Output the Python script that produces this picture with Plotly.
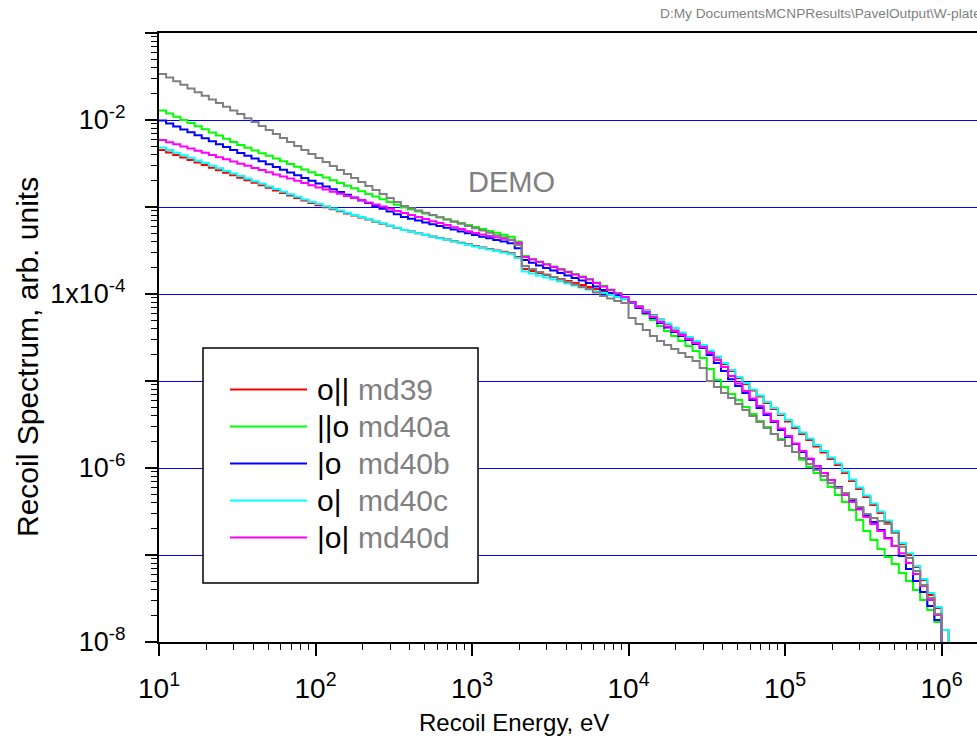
import math
import plotly.graph_objects as go

# ---- energy binning (22 equal-lethargy bins per decade) ----
BIN_MANTISSA = [1.000, 1.110, 1.233, 1.369, 1.520, 1.688, 1.874, 2.081, 2.310, 2.565, 2.848,
                3.162, 3.511, 3.899, 4.329, 4.806, 5.337, 5.926, 6.579, 7.305, 8.111, 9.006]
DECADES = [1e1, 1e2, 1e3, 1e4, 1e5]
ENERGY_EDGES = [m * d for d in DECADES for m in BIN_MANTISSA] + [1.0e6, 1.110e6]

# ---- recoil spectra, one value per energy bin (0 = empty bin) ----
MD39 = [4.52e-3, 4.23e-3, 3.96e-3, 3.70e-3, 3.46e-3, 3.24e-3, 3.03e-3, 2.83e-3, 2.65e-3, 2.48e-3, 2.32e-3, 2.17e-3,
        2.03e-3, 1.90e-3, 1.78e-3, 1.66e-3, 1.55e-3, 1.45e-3, 1.36e-3, 1.27e-3, 1.19e-3, 1.11e-3, 1.05e-3, 9.95e-4,
        9.43e-4, 8.93e-4, 8.44e-4, 7.99e-4, 7.57e-4, 7.17e-4, 6.78e-4, 6.41e-4, 6.08e-4, 5.75e-4, 5.44e-4, 5.22e-4,
        5.00e-4, 4.79e-4, 4.59e-4, 4.40e-4, 4.22e-4, 4.05e-4, 3.88e-4, 3.72e-4, 3.56e-4, 3.42e-4, 3.30e-4, 3.17e-4,
        3.06e-4, 2.94e-4, 2.66e-4, 1.94e-4, 1.84e-4, 1.74e-4, 1.65e-4, 1.57e-4, 1.49e-4, 1.41e-4, 1.34e-4, 1.27e-4,
        1.20e-4, 1.14e-4, 1.08e-4, 1.01e-4, 9.48e-5, 8.88e-5, 8.09e-5, 7.28e-5, 6.46e-5, 5.74e-5, 5.09e-5, 4.52e-5,
        4.01e-5, 3.56e-5, 3.16e-5, 2.81e-5, 2.53e-5, 2.18e-5, 1.86e-5, 1.57e-5, 1.30e-5, 1.08e-5, 9.24e-6, 7.78e-6,
        6.63e-6, 5.59e-6, 4.77e-6, 4.07e-6, 3.42e-6, 2.88e-6, 2.46e-6, 2.10e-6, 1.77e-6, 1.51e-6, 1.27e-6, 1.08e-6,
        8.76e-7, 7.09e-7, 5.74e-7, 4.64e-7, 3.76e-7, 3.04e-7, 2.39e-7, 1.84e-7, 1.34e-7, 1.00e-7, 7.28e-8, 5.16e-8,
        3.47e-8, 2.46e-8, 1.37e-8]

MD40A = [1.29e-2, 1.19e-2, 1.09e-2, 1.00e-2, 9.24e-3, 8.49e-3, 7.82e-3, 7.18e-3, 6.62e-3, 6.10e-3, 5.60e-3, 5.16e-3,
         4.80e-3, 4.47e-3, 4.15e-3, 3.87e-3, 3.60e-3, 3.35e-3, 3.12e-3, 2.91e-3, 2.70e-3, 2.51e-3, 2.34e-3, 2.18e-3,
         2.03e-3, 1.89e-3, 1.76e-3, 1.64e-3, 1.52e-3, 1.41e-3, 1.32e-3, 1.23e-3, 1.14e-3, 1.06e-3, 9.87e-4, 9.36e-4,
         8.90e-4, 8.44e-4, 8.03e-4, 7.61e-4, 7.24e-4, 6.87e-4, 6.53e-4, 6.19e-4, 5.89e-4, 5.60e-4, 5.31e-4, 5.05e-4,
         4.79e-4, 4.56e-4, 3.99e-4, 2.73e-4, 2.53e-4, 2.36e-4, 2.21e-4, 2.07e-4, 1.94e-4, 1.81e-4, 1.70e-4, 1.59e-4,
         1.49e-4, 1.36e-4, 1.24e-4, 1.13e-4, 1.03e-4, 9.24e-5, 8.09e-5, 6.91e-5, 5.89e-5, 5.02e-5, 4.29e-5, 3.76e-5,
         3.29e-5, 2.88e-5, 2.53e-5, 2.21e-5, 1.84e-5, 1.37e-5, 1.03e-5, 8.53e-6, 7.09e-6, 6.05e-6, 5.02e-6, 4.18e-6,
         3.47e-6, 2.96e-6, 2.46e-6, 2.15e-6, 1.79e-6, 1.53e-6, 1.24e-6, 1.03e-6, 8.76e-7, 7.28e-7, 6.05e-7, 4.89e-7,
         4.07e-7, 3.29e-7, 2.53e-7, 1.89e-7, 1.49e-7, 1.17e-7, 9.48e-8, 7.88e-8, 6.21e-8, 5.02e-8, 3.96e-8, 3.04e-8,
         2.33e-8, 1.70e-8, 0]

MD40B = [9.87e-3, 9.12e-3, 8.44e-3, 7.80e-3, 7.22e-3, 6.67e-3, 6.18e-3, 5.71e-3, 5.28e-3, 4.88e-3, 4.52e-3, 4.18e-3,
         3.88e-3, 3.60e-3, 3.35e-3, 3.11e-3, 2.89e-3, 2.68e-3, 2.49e-3, 2.31e-3, 2.15e-3, 2.00e-3, 1.86e-3, 1.72e-3,
         1.60e-3, 1.49e-3, 1.38e-3, 1.29e-3, 1.19e-3, 1.11e-3, 1.03e-3, 9.56e-4, 8.90e-4, 8.27e-4, 7.68e-4, 7.32e-4,
         6.98e-4, 6.65e-4, 6.34e-4, 6.05e-4, 5.77e-4, 5.50e-4, 5.24e-4, 5.00e-4, 4.77e-4, 4.56e-4, 4.37e-4, 4.18e-4,
         4.00e-4, 3.83e-4, 3.35e-4, 2.46e-4, 2.28e-4, 2.13e-4, 1.99e-4, 1.86e-4, 1.74e-4, 1.63e-4, 1.53e-4, 1.43e-4,
         1.34e-4, 1.22e-4, 1.11e-4, 1.03e-4, 9.48e-5, 8.76e-5, 7.88e-5, 6.91e-5, 6.05e-5, 5.30e-5, 4.64e-5, 4.12e-5,
         3.66e-5, 3.29e-5, 2.96e-5, 2.66e-5, 2.39e-5, 1.99e-5, 1.61e-5, 1.30e-5, 1.05e-5, 8.76e-6, 7.28e-6, 6.05e-6,
         4.89e-6, 4.07e-6, 3.38e-6, 2.73e-6, 2.27e-6, 1.89e-6, 1.53e-6, 1.27e-6, 1.05e-6, 8.76e-7, 7.28e-7, 6.05e-7,
         5.02e-7, 4.18e-7, 3.47e-7, 2.88e-7, 2.39e-7, 1.94e-7, 1.57e-7, 1.27e-7, 9.74e-8, 6.91e-8, 5.02e-8, 3.76e-8,
         2.59e-8, 1.79e-8, 0]

MD40C = [4.83e-3, 4.51e-3, 4.21e-3, 3.93e-3, 3.67e-3, 3.42e-3, 3.20e-3, 2.98e-3, 2.78e-3, 2.60e-3, 2.43e-3, 2.27e-3,
         2.12e-3, 1.98e-3, 1.85e-3, 1.72e-3, 1.61e-3, 1.50e-3, 1.40e-3, 1.31e-3, 1.22e-3, 1.14e-3, 1.08e-3, 1.02e-3,
         9.61e-4, 9.09e-4, 8.58e-4, 8.11e-4, 7.65e-4, 7.24e-4, 6.83e-4, 6.46e-4, 6.10e-4, 5.77e-4, 5.44e-4, 5.20e-4,
         4.99e-4, 4.77e-4, 4.57e-4, 4.37e-4, 4.19e-4, 4.00e-4, 3.84e-4, 3.67e-4, 3.52e-4, 3.38e-4, 3.25e-4, 3.12e-4,
         3.00e-4, 2.88e-4, 2.59e-4, 1.81e-4, 1.72e-4, 1.63e-4, 1.55e-4, 1.47e-4, 1.39e-4, 1.32e-4, 1.25e-4, 1.19e-4,
         1.13e-4, 1.07e-4, 1.03e-4, 9.74e-5, 9.24e-5, 8.76e-5, 7.99e-5, 7.18e-5, 6.38e-5, 5.66e-5, 5.09e-5, 4.58e-5,
         4.07e-5, 3.61e-5, 3.20e-5, 2.88e-5, 2.59e-5, 2.24e-5, 1.91e-5, 1.61e-5, 1.34e-5, 1.11e-5, 9.48e-6, 7.99e-6,
         6.81e-6, 5.74e-6, 4.89e-6, 4.18e-6, 3.56e-6, 3.00e-6, 2.56e-6, 2.18e-6, 1.84e-6, 1.57e-6, 1.32e-6, 1.13e-6,
         9.12e-7, 7.38e-7, 5.97e-7, 4.83e-7, 3.91e-7, 3.16e-7, 2.49e-7, 1.89e-7, 1.37e-7, 1.05e-7, 7.47e-8, 5.30e-8,
         3.66e-8, 2.53e-8, 1.37e-8]

MD40D = [5.89e-3, 5.56e-3, 5.26e-3, 4.97e-3, 4.69e-3, 4.43e-3, 4.19e-3, 3.96e-3, 3.74e-3, 3.53e-3, 3.33e-3, 3.15e-3,
         2.98e-3, 2.81e-3, 2.66e-3, 2.51e-3, 2.37e-3, 2.24e-3, 2.12e-3, 2.00e-3, 1.89e-3, 1.78e-3, 1.68e-3, 1.59e-3,
         1.50e-3, 1.42e-3, 1.34e-3, 1.27e-3, 1.20e-3, 1.13e-3, 1.07e-3, 1.01e-3, 9.54e-4, 9.01e-4, 8.51e-4, 8.07e-4,
         7.65e-4, 7.26e-4, 6.88e-4, 6.53e-4, 6.19e-4, 5.87e-4, 5.57e-4, 5.28e-4, 5.01e-4, 4.83e-4, 4.65e-4, 4.48e-4,
         4.32e-4, 4.17e-4, 3.86e-4, 2.66e-4, 2.49e-4, 2.33e-4, 2.18e-4, 2.04e-4, 1.91e-4, 1.79e-4, 1.68e-4, 1.57e-4,
         1.47e-4, 1.34e-4, 1.22e-4, 1.11e-4, 1.01e-4, 9.24e-5, 8.09e-5, 7.09e-5, 6.21e-5, 5.44e-5, 4.77e-5, 4.23e-5,
         3.76e-5, 3.38e-5, 3.04e-5, 2.73e-5, 2.46e-5, 2.10e-5, 1.74e-5, 1.45e-5, 1.14e-5, 9.36e-6, 7.68e-6, 6.30e-6,
         5.16e-6, 4.23e-6, 3.47e-6, 2.84e-6, 2.33e-6, 1.91e-6, 1.57e-6, 1.29e-6, 1.05e-6, 8.76e-7, 7.28e-7, 5.97e-7,
         4.89e-7, 4.07e-7, 3.33e-7, 2.73e-7, 2.27e-7, 1.89e-7, 1.55e-7, 1.27e-7, 1.05e-7, 8.09e-8, 6.05e-8, 4.40e-8,
         3.04e-8, 2.04e-8, 0]

BARE = [3.38e-2, 3.07e-2, 2.79e-2, 2.54e-2, 2.30e-2, 2.09e-2, 1.90e-2, 1.72e-2, 1.57e-2, 1.42e-2, 1.29e-2, 1.17e-2,
        1.05e-2, 9.48e-3, 8.53e-3, 7.67e-3, 6.90e-3, 6.21e-3, 5.58e-3, 5.02e-3, 4.52e-3, 4.06e-3, 3.66e-3, 3.29e-3,
        2.96e-3, 2.66e-3, 2.39e-3, 2.15e-3, 1.94e-3, 1.74e-3, 1.57e-3, 1.41e-3, 1.27e-3, 1.14e-3, 1.03e-3, 9.66e-4,
        9.12e-4, 8.59e-4, 8.09e-4, 7.64e-4, 7.19e-4, 6.78e-4, 6.40e-4, 6.03e-4, 5.68e-4, 5.36e-4, 5.05e-4, 4.75e-4,
        4.49e-4, 4.23e-4, 3.66e-4, 2.10e-4, 1.94e-4, 1.79e-4, 1.67e-4, 1.57e-4, 1.47e-4, 1.37e-4, 1.29e-4, 1.20e-4,
        1.14e-4, 1.04e-4, 9.48e-5, 8.87e-5, 8.32e-5, 7.89e-5, 5.30e-5, 4.52e-5, 3.85e-5, 3.29e-5, 2.88e-5, 2.59e-5,
        2.33e-5, 2.10e-5, 1.89e-5, 1.70e-5, 1.41e-5, 1.00e-5, 8.53e-6, 7.28e-6, 6.38e-6, 5.45e-6, 4.65e-6, 3.96e-6,
        3.38e-6, 2.88e-6, 2.46e-6, 2.10e-6, 1.79e-6, 1.53e-6, 1.30e-6, 1.11e-6, 9.48e-7, 8.09e-7, 6.73e-7, 5.89e-7,
        5.16e-7, 4.41e-7, 3.56e-7, 2.96e-7, 2.66e-7, 2.46e-7, 2.27e-7, 1.79e-7, 1.24e-7, 9.25e-8, 6.55e-8, 4.52e-8,
        3.21e-8, 2.10e-8, 0]

LEGEND_KEYS = ["o||", "||o", "|o", "o|", "|o|"]
LEGEND_NAMES = ["md39", "md40a", "md40b", "md40c", "md40d"]
SERIES = [MD39, MD40A, MD40B, MD40C, MD40D]
COLORS = ["#ff0000", "#00ff00", "#0000ff", "#00ffff", "#ff00ff"]
BARE_COLOR = "#808080"

X_TICKS = [1e1, 1e2, 1e3, 1e4, 1e5, 1e6]
X_TICKTEXT = ["10<sup>1</sup>", "10<sup>2</sup>", "10<sup>3</sup>", "10<sup>4</sup>", "10<sup>5</sup>", "10<sup>6</sup>"]
Y_TICKS = [1e-8, 1e-7, 1e-6, 1e-5, 1e-4, 1e-3, 1e-2, 1e-1]
Y_TICKTEXT = ["10<sup>-8</sup>", "", "10<sup>-6</sup>", "", "1x10<sup>-4</sup>", "", "10<sup>-2</sup>", ""]
GRID_LEVELS = [1e-7, 1e-6, 1e-5, 1e-4, 1e-3, 1e-2]

# ---- page geometry ----
W, H = 977, 752
ML, MR, MT, MB = 159, 0, 33, 110
PLOT_H = H - MT - MB
FONT = "Arial, 'Liberation Sans', Helvetica, sans-serif"
FLOOR = 1e-12  # empty bins are drawn off the bottom of the axis
Y_RANGE = [-8, -1]


def px(xp):
    return (xp - ML) / (W - ML - MR)


def py(yp):
    return (H - MB - yp) / PLOT_H


def grid_y(level):
    # paper position of a decade line, nudged half a pixel so a 1 px rule sits on one pixel row
    frac = (math.log10(level) - Y_RANGE[0]) / (Y_RANGE[1] - Y_RANGE[0])
    return frac - 0.5 / PLOT_H


fig = go.Figure()


def add_spectrum(values, color, name):
    y = [v if v > 0 else FLOOR for v in values] + [FLOOR]
    fig.add_trace(go.Scatter(
        x=ENERGY_EDGES, y=y, mode="lines", name=name,
        line=dict(color=color, width=2, shape="hv"),
        showlegend=False, hoverinfo="skip"))


for vals, col, nm in zip(SERIES, COLORS, LEGEND_NAMES):
    add_spectrum(vals, col, nm)
add_spectrum(BARE, BARE_COLOR, "bare")

minor_x = [m * d for d in [1e1, 1e2, 1e3, 1e4, 1e5, 1e6] for m in range(2, 10)]
minor_y = [m * d for d in [1e-8, 1e-7, 1e-6, 1e-5, 1e-4, 1e-3, 1e-2] for m in range(2, 10)]

fig.update_layout(
    xaxis=dict(
        type="log", range=[1, 1 + (W - MR - ML) / 156.5],
        showline=True, linecolor="black", linewidth=2, mirror=True,
        showgrid=False, zeroline=False,
        tickmode="array", tickvals=X_TICKS, ticktext=X_TICKTEXT,
        ticks="outside", ticklen=12, tickwidth=1.5, tickcolor="black",
        ticklabelstandoff=8,
        tickfont=dict(family=FONT, size=28, color="black"),
        minor=dict(tickmode="array", tickvals=minor_x, ticks="outside", ticklen=6,
                   tickwidth=1.2, tickcolor="black", showgrid=False),
    ),
    yaxis=dict(
        type="log", range=Y_RANGE,
        showline=True, linecolor="black", linewidth=2,
        showgrid=False, zeroline=False,
        tickmode="array", tickvals=Y_TICKS, ticktext=Y_TICKTEXT,
        ticks="outside", ticklen=12, tickwidth=1.5, tickcolor="black",
        ticklabelstandoff=14,
        tickfont=dict(family=FONT, size=27, color="black"),
        minor=dict(tickmode="array", tickvals=minor_y, ticks="outside", ticklen=6,
                   tickwidth=1.2, tickcolor="black", showgrid=False),
    ),
)

# blue decade rules behind the spectra
shapes = [
    dict(type="line", xref="paper", yref="paper", x0=0, x1=1, y0=grid_y(lv), y1=grid_y(lv),
         line=dict(color="#0000ff", width=1), layer="below")
    for lv in GRID_LEVELS
]

annotations = [
    dict(text="Recoil Energy, eV", x=px(514), y=py(722), xref="paper", yref="paper",
         showarrow=False, xanchor="center", yanchor="middle",
         font=dict(family=FONT, size=24, color="black")),
    dict(text="Recoil Spectrum, arb. units", x=px(27), y=py(357), xref="paper", yref="paper",
         showarrow=False, xanchor="center", yanchor="middle", textangle=-90,
         font=dict(family=FONT, size=30, color="black")),
    dict(text="DEMO", x=px(511), y=py(182), xref="paper", yref="paper",
         showarrow=False, xanchor="center", yanchor="middle",
         font=dict(family=FONT, size=29, color="#808080")),
    dict(text="D:My DocumentsMCNPResults\\PavelOutput\\W-plate", x=px(658), y=py(14),
         xref="paper", yref="paper", showarrow=False, xanchor="left", yanchor="middle",
         font=dict(family=FONT, size=13.7, color="#808080")),
]

shapes.append(dict(type="rect", xref="paper", yref="paper", x0=px(203), x1=px(478), y0=py(583), y1=py(348),
                   line=dict(color="black", width=1.5), fillcolor="white", layer="above"))

LEG_ROW0, LEG_STEP = 389.5, 37
for i, (key, nm, col) in enumerate(zip(LEGEND_KEYS, LEGEND_NAMES, COLORS)):
    yrow = LEG_ROW0 + i * LEG_STEP
    shapes.append(dict(type="line", xref="paper", yref="paper", x0=px(230), x1=px(307),
                       y0=py(yrow), y1=py(yrow), line=dict(color=col, width=2), layer="above"))
    annotations.append(dict(text=key, x=px(315), y=py(yrow), xref="paper", yref="paper",
                            showarrow=False, xanchor="left", yanchor="middle",
                            font=dict(family=FONT, size=30, color="black")))
    annotations.append(dict(text=nm, x=px(356), y=py(yrow), xref="paper", yref="paper",
                            showarrow=False, xanchor="left", yanchor="middle",
                            font=dict(family=FONT, size=30, color="#808080")))

fig.update_layout(
    width=W, height=H, autosize=False,
    margin=dict(l=ML, r=MR, t=MT, b=MB, pad=0),
    paper_bgcolor="white", plot_bgcolor="white",
    showlegend=False,
    annotations=annotations, shapes=shapes,
)

fig.write_html("out.html")
